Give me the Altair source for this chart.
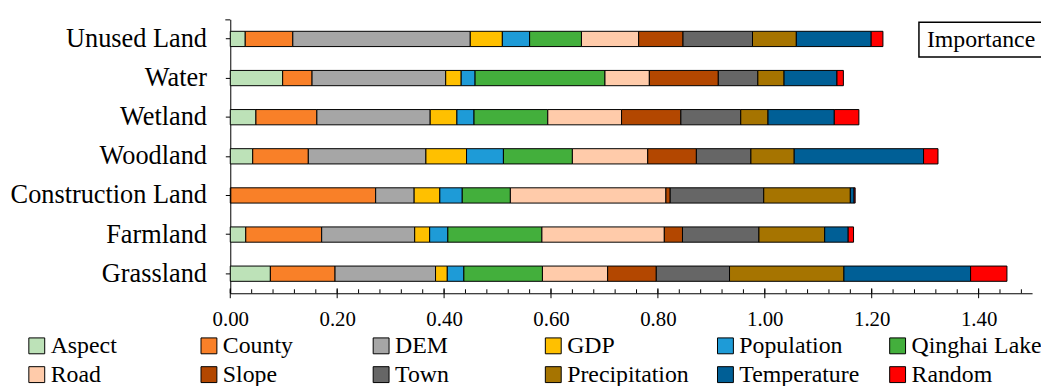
import altair as alt
import pandas as pd

LANDS = ["Unused Land", "Water", "Wetland", "Woodland",
         "Construction Land", "Farmland", "Grassland"]
FACTORS = ["Aspect", "County", "DEM", "GDP", "Population", "Qinghai Lake",
           "Road", "Slope", "Town", "Precipitation", "Temperature", "Random"]
COLORS = ["#BDE2B8", "#F98028", "#A6A6A6", "#FFC000", "#1E9BD7", "#43AF3C",
          "#FFCBAA", "#B34700", "#666666", "#A67400", "#005F96", "#FF0000"]

# importance of each factor (same order as FACTORS)
UNUSED_LAND = [0.028, 0.089, 0.332, 0.060, 0.051, 0.097, 0.107, 0.083, 0.130, 0.082, 0.140, 0.022]
WATER = [0.098, 0.055, 0.250, 0.029, 0.026, 0.243, 0.083, 0.129, 0.074, 0.049, 0.099, 0.012]
WETLAND = [0.048, 0.114, 0.212, 0.050, 0.032, 0.138, 0.138, 0.111, 0.112, 0.051, 0.124, 0.046]
WOODLAND = [0.042, 0.104, 0.220, 0.076, 0.069, 0.129, 0.141, 0.091, 0.102, 0.081, 0.242, 0.027]
CONSTRUCTION_LAND = [0.001, 0.271, 0.072, 0.048, 0.042, 0.090, 0.291, 0.008, 0.175, 0.162, 0.007, 0.002]
FARMLAND = [0.029, 0.142, 0.174, 0.028, 0.034, 0.176, 0.229, 0.034, 0.143, 0.123, 0.044, 0.010]
GRASSLAND = [0.075, 0.121, 0.188, 0.022, 0.031, 0.147, 0.122, 0.091, 0.137, 0.214, 0.237, 0.068]

SERIES = [UNUSED_LAND, WATER, WETLAND, WOODLAND, CONSTRUCTION_LAND, FARMLAND, GRASSLAND]

MAJOR_TICKS = [0.0, 0.2, 0.4, 0.6, 0.8, 1.0, 1.2, 1.4]
MINOR_TICKS = [round(i * 0.04, 2) for i in range(38)]

FONT = "Liberation Serif"
W, H = 808, 276

rows = []
for land, vals in zip(LANDS, SERIES):
    for i, (f, v) in enumerate(zip(FACTORS, vals)):
        rows.append({"land": land, "factor": f, "value": v, "order": i})
df = pd.DataFrame(rows)

bars = alt.Chart(df).mark_bar(stroke="black", strokeWidth=1).encode(
    y=alt.Y("land:N", sort=LANDS,
            scale=alt.Scale(paddingInner=0.61, paddingOuter=0.305),
            axis=alt.Axis(title=None, labelFont=FONT, labelFontSize=26.5,
                          labelColor="black", tickColor="black", tickSize=5,
                          domainColor="black", labelPadding=19,
                          labelLimit=400)),
    x=alt.X("value:Q", stack="zero",
            scale=alt.Scale(domain=[0, 1.5], nice=False),
            axis=alt.Axis(title=None, values=MAJOR_TICKS, format=".2f",
                          ticks=False, grid=False, labelFont=FONT,
                          labelFontSize=21, labelColor="black",
                          labelFlush=False, labelPadding=16,
                          domainColor="black")),
    color=alt.Color("factor:N", sort=FACTORS,
                    scale=alt.Scale(domain=FACTORS, range=COLORS),
                    legend=alt.Legend(title=None, orient="none",
                                      direction="horizontal",
                                      legendX=-207, legendY=317, columns=6,
                                      symbolType="square", symbolSize=256,
                                      symbolStrokeColor="black",
                                      symbolStrokeWidth=1, symbolOpacity=1,
                                      labelFont=FONT, labelFontSize=24,
                                      labelColor="black", labelOffset=2,
                                      labelLimit=300, columnPadding=15.5,
                                      rowPadding=5, gridAlign="all",
                                      padding=0)),
    order=alt.Order("order:Q"),
)

minor = alt.Chart(pd.DataFrame({"t": MINOR_TICKS})).mark_rule(
    color="black", strokeWidth=1).encode(
    x=alt.X("t:Q"), y=alt.value(H - 4), y2=alt.value(H))
major = alt.Chart(pd.DataFrame({"t": MAJOR_TICKS})).mark_rule(
    color="black", strokeWidth=1).encode(
    x=alt.X("t:Q"), y=alt.value(H - 5), y2=alt.value(H + 5))

one = alt.Data(values=[{"a": 1}])
top_tick = alt.Chart(one).mark_rule(color="black", strokeWidth=1).encode(
    x=alt.value(-5), x2=alt.value(0), y=alt.value(0.5))
box = alt.Chart(one).mark_rect(fill="white", stroke="black",
                               strokeWidth=1.5).encode(
    x=alt.value(694), x2=alt.value(830), y=alt.value(3), y2=alt.value(38))
box_text = alt.Chart(one).mark_text(
    text="Importance", font=FONT, fontSize=24, color="black",
    align="left", baseline="middle").encode(
    x=alt.value(702), y=alt.value(21))

chart = alt.layer(bars, minor, major, top_tick, box, box_text).properties(
    width=W, height=H,
    padding={"left": 224, "top": 10, "right": 9, "bottom": 92},
    autosize=alt.AutoSizeParams(type="none"),
).configure_view(strokeWidth=0).configure_axis(labelFont=FONT)

chart.save("out.html", embed_options={"renderer": "svg", "actions": False})
